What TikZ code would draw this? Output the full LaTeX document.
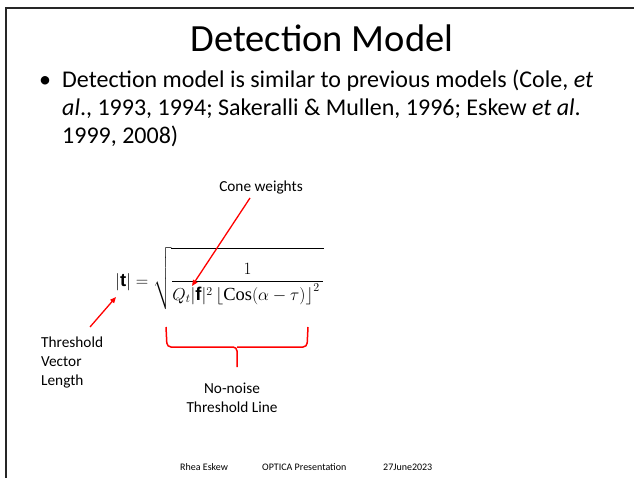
\documentclass[tikz,border=0pt]{standalone}
\usepackage{amsmath}
\usepackage[no-math]{fontspec}
\setmainfont{Carlito}
\newfontfamily\arialfont{Liberation Sans}
\newfontfamily\timesfont{Liberation Serif}
\usetikzlibrary{positioning,arrows.meta}

\begin{document}
\begin{tikzpicture}[x=1pt,y=-1pt,
  note/.style = {inner sep=0pt, align=center, font=\fontsize{15.3}{19}\selectfont},
  foot/.style = {inner sep=0pt, anchor=base west, font=\fontsize{10}{12}\selectfont},
  pointer/.style = {red, line width=1.3pt, -{Triangle[length=6pt,width=5pt]}},
  brace/.style = {red, line width=1.5pt, rounded corners=4pt}]
    \useasboundingbox (0,0) rectangle (634,478);
    \fill[white] (0,0) rectangle (634,478);
    % slide frame
    \draw[line width=2.5pt, black!85] (634,8) -| (6,478);

    \node[inner sep=0pt, anchor=base, font=\fontsize{38.5}{46}\selectfont] (title) at (322,52) {Detection Model};
    \node[inner sep=0pt, anchor=base, font=\fontsize{24}{28}\selectfont] (bullet) at (45,88) {\textbullet};
    % base of a multi-line node is its last line
    \node[inner sep=0pt, anchor=base west, align=left, font=\fontsize{24}{28}\selectfont] (point) at (62,144)
        {Detection model is similar to previous models (Cole, \textit{et}\\
         \textit{al}., 1993, 1994; Sakeralli \& Mullen, 1996; Eskew \textit{et al}.\\
         1999, 2008)};

    % the threshold formula
    \node[inner sep=0pt, anchor=base west, font=\fontsize{18.5}{22}\selectfont] (formula) at (115,286)
        {$\lvert\hbox{\arialfont\bfseries t}\rvert = \sqrt{\dfrac{\rule{0pt}{24.5pt}1}{Q_t\lvert\hbox{\arialfont\bfseries f}\rvert^2\left\lfloor\hbox{\timesfont Cos}(\alpha-\tau)\right\rfloor^2\rule[-9pt]{0pt}{1pt}}}$};

    \node[note, anchor=base] (cone) at (261,192) {Cone weights};
    \node[note, anchor=base west, align=left] (length) at (41,385) {Threshold\\Vector\\Length};
    \node[note, anchor=base] (line) at (232,412) {No-noise\\Threshold Line};

    \coordinate (conetail) at (250,198);
    \coordinate (fvec) at (192,286);
    \coordinate (lengthtail) at (90,327);
    \coordinate (tvec) at (116,297);
    \draw[pointer] (conetail) -- (fvec);
    \draw[pointer] (lengthtail) -- (tvec);

    % brace under the denominator
    \draw[brace] (166,327) -- (167,347) -- (237,347) -- (237,367);
    \draw[brace] (308,327) -- (307,347) -- (237,347);

    \node[foot] (author) at (180,470) {Rhea Eskew};
    \node[foot] (event) at (262,470) {OPTICA Presentation};
    \node[foot] (date) at (383,470) {27June2023};
\end{tikzpicture}
\end{document}
